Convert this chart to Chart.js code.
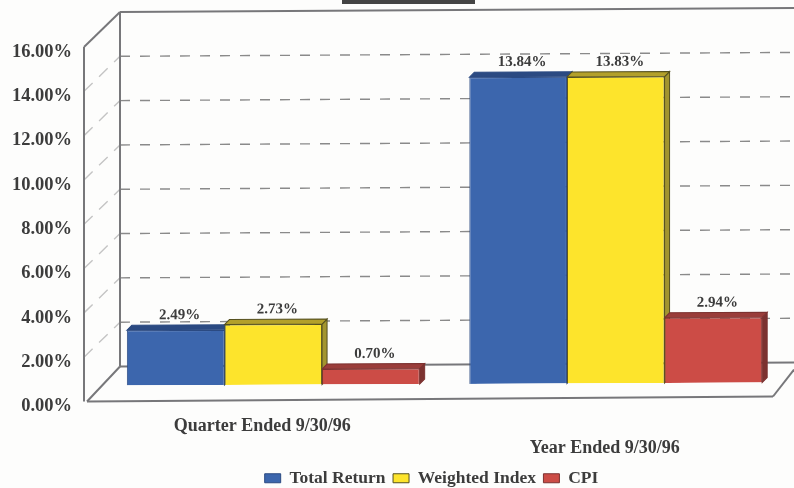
<!DOCTYPE html>
<html lang="en">
<head>
<meta charset="UTF-8">
<title>Total Return vs Weighted Index and CPI</title>
<script src="https://cdn.jsdelivr.net/npm/chart.js"></script>
<style>
    html, body { margin: 0; padding: 0; background: #fdfdfc; }
    #wrap { position: relative; width: 794px; height: 488px; }
</style>
</head>
<body>
<div id="wrap"><canvas id="returnsChart" width="794" height="488"></canvas></div>
<script>
    var periods = ['Quarter Ended 9/30/96', 'Year Ended 9/30/96'];
    var totalReturn = [2.49, 13.84];
    var weightedIndex = [2.73, 13.83];
    var cpi = [0.70, 2.94];
    var yMax = 16;
    var yStep = 2;

    var serifBold = '"Liberation Serif", serif';
    var textColor = '#3c3c3c';
    var wallColor = '#77777a';
    var depth = 5;

    // faces that give each bar its depth, darker than the front
    var topColors = ['#2b4a82', '#b3a02a', '#9a3d3a'];
    var sideColors = ['#2b4a82', '#a3952f', '#7c3230'];

    // bars stand a little in front of the back wall and the page is slightly skewed
    function barPlane(ctx) {
        ctx.transform(1, -0.0047, 0, 1, 0, -16 + 0.0047 * 127);
    }

    function line(ctx, x1, y1, x2, y2) {
        ctx.beginPath();
        ctx.moveTo(x1, y1);
        ctx.lineTo(x2, y2);
        ctx.stroke();
    }

    var frame3d = {
        id: 'frame3d',
        afterLayout: function (chart) {
            // legend sits right of centre and close to the bottom edge
            chart.legend.left += 38;
            chart.legend.right += 38;
            chart.legend.top += 9;
            chart.legend.bottom += 9;
        },
        beforeDatasetsDraw: function (chart) {
            var ctx = chart.ctx;
            var y = chart.scales.y;
            var front = 84, back = 120, right = 794, wallShift = 35;
            var bottom = y.getPixelForValue(0), top = y.getPixelForValue(yMax);
            var tilt = 0.0058;

            ctx.save();

            // stub of the heading rule
            ctx.fillStyle = '#444';
            ctx.fillRect(342, 0, 133, 4);

            // dashed lines on the back and side walls
            ctx.lineWidth = 1.4;
            for (var v = yStep; v < yMax; v += yStep) {
                var py = y.getPixelForValue(v);
                ctx.strokeStyle = '#8a8a8a';
                ctx.setLineDash([10, 10]);
                line(ctx, back, py - wallShift, right, py - wallShift - tilt * (right - back));
                ctx.strokeStyle = '#c4c4c4';
                ctx.setLineDash([12, 9]);
                line(ctx, front, py, back, py - wallShift);
            }
            ctx.setLineDash([]);

            ctx.strokeStyle = wallColor;
            ctx.lineWidth = 2;
            line(ctx, back, bottom - wallShift, right, bottom - wallShift - tilt * (right - back));
            line(ctx, back, top - wallShift, right, top - wallShift - tilt * (right - back));
            line(ctx, front, top, front, bottom);
            line(ctx, back, top - wallShift, back, bottom - wallShift);
            line(ctx, front, top, back, top - wallShift);
            line(ctx, front + 3, bottom, back, bottom - wallShift);
            line(ctx, front + 3, bottom, 773, bottom - 5);
            line(ctx, 773, bottom - 5, right, bottom - 32);

            ctx.restore();

            ctx.save();
            barPlane(ctx);
            chart.data.datasets.forEach(function (ds, i) {
                chart.getDatasetMeta(i).data.forEach(function (bar) {
                    var x0 = bar.x - bar.width / 2, x1 = bar.x + bar.width / 2;
                    ctx.lineWidth = 1;
                    ctx.strokeStyle = ds.borderColor;

                    ctx.fillStyle = sideColors[i];
                    ctx.beginPath();
                    ctx.moveTo(x1, bar.y);
                    ctx.lineTo(x1 + depth, bar.y - depth);
                    ctx.lineTo(x1 + depth, bar.base - depth);
                    ctx.lineTo(x1, bar.base);
                    ctx.closePath();
                    ctx.fill();
                    ctx.stroke();

                    ctx.fillStyle = topColors[i];
                    ctx.beginPath();
                    ctx.moveTo(x0, bar.y);
                    ctx.lineTo(x0 + depth, bar.y - depth);
                    ctx.lineTo(x1 + depth, bar.y - depth);
                    ctx.lineTo(x1, bar.y);
                    ctx.closePath();
                    ctx.fill();
                    ctx.stroke();
                });
            });
            // left open, afterDatasetsDraw restores it
        },
        afterDatasetsDraw: function (chart) {
            var ctx = chart.ctx;
            ctx.font = 'bold 15px ' + serifBold;
            ctx.fillStyle = textColor;
            ctx.textAlign = 'center';
            ctx.textBaseline = 'alphabetic';
            chart.data.datasets.forEach(function (ds, i) {
                chart.getDatasetMeta(i).data.forEach(function (bar, j) {
                    ctx.fillText(ds.data[j].toFixed(2) + '%', bar.x + 4, bar.y - 11);
                });
            });
            ctx.restore();
        }
    };

    var myChart = new Chart(document.getElementById('returnsChart').getContext('2d'), {
        type: 'bar',
        data: {
            labels: periods,
            datasets: [
                { label: 'Total Return', data: totalReturn, backgroundColor: '#3c66ad', borderColor: '#2b4a82', borderWidth: 1 },
                { label: 'Weighted Index', data: weightedIndex, backgroundColor: '#fde42c', borderColor: '#55501f', borderWidth: 1 },
                { label: 'CPI', data: cpi, backgroundColor: '#cc4c46', borderColor: '#7c3230', borderWidth: 1 }
            ]
        },
        options: {
            responsive: false,
            animation: false,
            layout: { padding: { top: 47, right: 7, bottom: 0, left: 0 } },
            datasets: { bar: { categoryPercentage: 0.855, barPercentage: 1 } },
            scales: {
                x: {
                    grid: { display: false },
                    border: { display: false },
                    afterFit: function (scale) { scale.height = 51.5; },
                    ticks: {
                        padding: 6,
                        labelOffset: -11,
                        maxRotation: 0,
                        autoSkip: false,
                        color: textColor,
                        font: { family: serifBold, weight: 'bold', size: 18 },
                        callback: function (value, index) {
                            var name = this.getLabelForValue(value);
                            return index === 1 ? ['', name] : name;
                        }
                    }
                },
                y: {
                    min: 0,
                    max: yMax,
                    grid: { display: false },
                    border: { display: false },
                    afterFit: function (scale) { scale.width = 102; },
                    ticks: {
                        stepSize: yStep,
                        padding: 22,
                        labelOffset: 5,
                        color: textColor,
                        font: { family: serifBold, weight: 'bold', size: 18.5 },
                        callback: function (value) { return value.toFixed(2) + '%'; }
                    }
                }
            },
            plugins: {
                tooltip: { enabled: false },
                legend: {
                    position: 'bottom',
                    labels: {
                        boxWidth: 16,
                        boxHeight: 9,
                        padding: 7.5,
                        color: textColor,
                        font: { family: serifBold, weight: 'bold', size: 17.5 }
                    }
                }
            }
        },
        plugins: [frame3d]
    });
</script>
</body>
</html>
